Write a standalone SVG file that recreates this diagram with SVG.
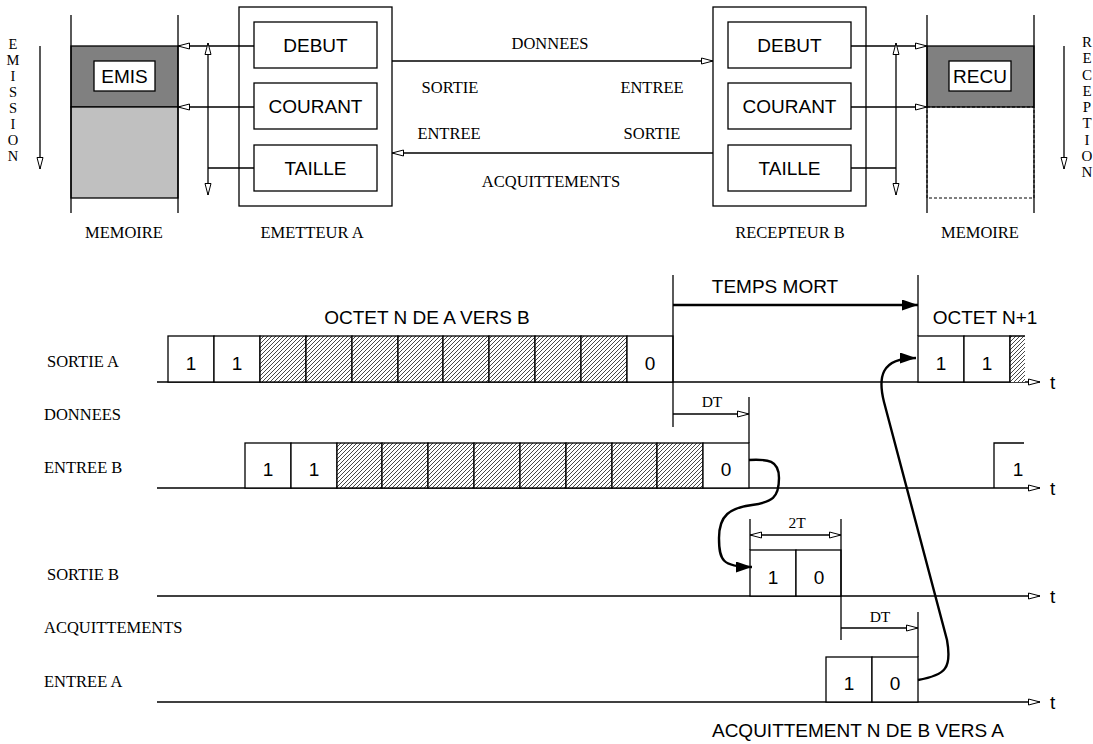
<svg xmlns="http://www.w3.org/2000/svg" width="1093" height="744" viewBox="0 0 1093 744">
<style>
.ln{stroke:#000;stroke-width:1.3;fill:none}
.bx{stroke:#000;stroke-width:1.3;fill:#fff}
.hb{stroke:#000;stroke-width:1.3;fill:url(#hatch)}
.sf{font-family:"Liberation Serif","Times New Roman",serif;font-size:16.5px;fill:#000}
.ss{font-family:"Liberation Sans",Arial,sans-serif;font-size:19px;fill:#000}
.dim{font-family:"Liberation Serif","Times New Roman",serif;font-size:15.5px;fill:#000}
.vt{font-family:"Liberation Serif","Times New Roman",serif;fill:#000;writing-mode:vertical-rl;text-orientation:upright}
.c{text-anchor:middle}
.oa{stroke:#000;stroke-width:1.3;fill:none;marker-end:url(#open)}
.ob{stroke:#000;stroke-width:1.3;fill:none;marker-start:url(#open);marker-end:url(#open)}
.sa{stroke:#000;stroke-width:2.4;fill:none;marker-end:url(#solid)}
</style>
<defs>
<marker id="open" markerUnits="userSpaceOnUse" markerWidth="14" markerHeight="9" refX="12" refY="4" orient="auto-start-reverse">
<path d="M0.5,1 L12,4 L0.5,7 z" fill="#fff" stroke="#000" stroke-width="1"/>
</marker>
<marker id="solid" markerUnits="userSpaceOnUse" markerWidth="18" markerHeight="12" refX="16" refY="5.5" orient="auto">
<path d="M0,0 L16,5.5 L0,11 z" fill="#000"/>
</marker>
<pattern id="hatch" width="4" height="4" patternUnits="userSpaceOnUse">
<rect width="4" height="4" fill="#fff"/>
<path d="M-1,1 L1,-1 M0,4 L4,0 M3,5 L5,3" stroke="#333" stroke-width="0.9"/>
</pattern>
</defs>
<rect width="1093" height="744" fill="#fff"/>

<g id="emission-label">
<text class="vt" x="13" y="36" style="font-size:14.5px">EMISSION</text>
</g>

<g id="memoire-a">
<rect x="71" y="46" width="107" height="61" fill="#808080" stroke="#000" stroke-width="1.3"/>
<rect x="71" y="107" width="107" height="91" fill="#c0c0c0" stroke="#000" stroke-width="1.3"/>
<line class="ln" x1="71" y1="15" x2="71" y2="213"/>
<line class="ln" x1="178" y1="15" x2="178" y2="213"/>
<rect class="bx" x="94" y="61" width="61" height="30"/>
<text class="ss c" x="124.5" y="83">EMIS</text>
<text class="sf c" x="124" y="238">MEMOIRE</text>
</g>

<g id="emetteur-a">
<rect class="ln" x="239" y="7" width="153" height="199"/>
<g id="debut-a"><rect class="bx" x="254" y="22" width="123" height="46"/><text class="ss c" x="315.5" y="52">DEBUT</text></g>
<g id="courant-a"><rect class="bx" x="254" y="83" width="123" height="46"/><text class="ss c" x="315.5" y="113">COURANT</text></g>
<g id="taille-a"><rect class="bx" x="254" y="145" width="123" height="46"/><text class="ss c" x="315.5" y="175">TAILLE</text></g>
<text class="sf c" x="312" y="238">EMETTEUR A</text>
</g>

<g id="recepteur-b">
<rect class="ln" x="713" y="7" width="153" height="199"/>
<g id="debut-b"><rect class="bx" x="728" y="22" width="123" height="46"/><text class="ss c" x="789.5" y="52">DEBUT</text></g>
<g id="courant-b"><rect class="bx" x="728" y="83" width="123" height="46"/><text class="ss c" x="789.5" y="113">COURANT</text></g>
<g id="taille-b"><rect class="bx" x="728" y="145" width="123" height="46"/><text class="ss c" x="789.5" y="175">TAILLE</text></g>
<text class="sf c" x="790" y="238">RECEPTEUR B</text>
</g>

<g id="memoire-b">
<rect x="927" y="46" width="107" height="61" fill="#808080" stroke="#000" stroke-width="1.3"/>
<rect x="927" y="107" width="107" height="91" fill="none" stroke="#000" stroke-width="1" stroke-dasharray="3,2"/>
<line class="ln" x1="927" y1="15" x2="927" y2="213"/>
<line class="ln" x1="1034" y1="15" x2="1034" y2="213"/>
<rect class="bx" x="949" y="61" width="62" height="30"/>
<text class="ss c" x="980" y="83">RECU</text>
<text class="sf c" x="980" y="238">MEMOIRE</text>
</g>

<g id="reception-label">
<text class="vt" x="1087" y="34" style="font-size:15px;letter-spacing:0.3px">RECEPTION</text>
</g>

<g id="link-labels">
<text class="sf c" x="550" y="49">DONNEES</text>
<text class="sf c" x="450" y="93">SORTIE</text>
<text class="sf c" x="652" y="93">ENTREE</text>
<text class="sf c" x="449" y="139">ENTREE</text>
<text class="sf c" x="652" y="139">SORTIE</text>
<text class="sf c" x="551" y="187">ACQUITTEMENTS</text>
</g>

<g id="connectors">
<line class="oa" x1="40" y1="46" x2="40" y2="169"/>
<line class="oa" x1="1064" y1="46" x2="1064" y2="169"/>
<line class="oa" x1="254" y1="46" x2="178" y2="46"/>
<line class="oa" x1="254" y1="107" x2="178" y2="107"/>
<line class="ln" x1="254" y1="168" x2="208" y2="168"/>
<line class="ob" x1="208" y1="43" x2="208" y2="195"/>
<line class="oa" x1="851" y1="46" x2="927" y2="46"/>
<line class="oa" x1="851" y1="107" x2="927" y2="107"/>
<line class="ln" x1="851" y1="168" x2="896" y2="168"/>
<line class="ob" x1="896" y1="43" x2="896" y2="195"/>
<line class="oa" x1="392" y1="61" x2="713" y2="61"/>
<line class="oa" x1="713" y1="153" x2="392" y2="153"/>
</g>

<g id="timing-labels">
<text class="sf" x="47" y="367">SORTIE A</text>
<text class="sf" x="44" y="420">DONNEES</text>
<text class="sf" x="44" y="473">ENTREE B</text>
<text class="sf" x="47" y="580">SORTIE B</text>
<text class="sf" x="44" y="633">ACQUITTEMENTS</text>
<text class="sf" x="44" y="687">ENTREE A</text>
<text class="ss c" x="427" y="324">OCTET N DE A VERS B</text>
<text class="ss c" x="775" y="293">TEMPS MORT</text>
<text class="ss c" x="985" y="324">OCTET N+1</text>
<text class="ss c" x="858" y="737">ACQUITTEMENT N DE B VERS A</text>
<text class="ss" x="1050" y="389">t</text>
<text class="ss" x="1050" y="495">t</text>
<text class="ss" x="1050" y="603">t</text>
<text class="ss" x="1050" y="709">t</text>
</g>

<g id="sortie-a">
<line class="oa" x1="157" y1="382" x2="1040" y2="382"/>
<rect class="bx" x="168" y="336" width="46" height="46"/>
<rect class="bx" x="214" y="336" width="46" height="46"/>
<rect class="hb" x="260" y="336" width="46" height="46"/>
<rect class="hb" x="306" y="336" width="46" height="46"/>
<rect class="hb" x="352" y="336" width="46" height="46"/>
<rect class="hb" x="398" y="336" width="45" height="46"/>
<rect class="hb" x="443" y="336" width="46" height="46"/>
<rect class="hb" x="489" y="336" width="46" height="46"/>
<rect class="hb" x="535" y="336" width="46" height="46"/>
<rect class="hb" x="581" y="336" width="46" height="46"/>
<rect class="bx" x="627" y="336" width="46" height="46"/>
<text class="ss c" x="191" y="370">1</text>
<text class="ss c" x="237" y="370">1</text>
<text class="ss c" x="650" y="370">0</text>
<rect class="bx" x="918" y="336" width="46" height="46"/>
<rect class="bx" x="964" y="336" width="46" height="46"/>
<rect x="1010" y="336" width="15" height="46" fill="url(#hatch)"/>
<polyline class="ln" points="1010,382 1010,336 1025,336"/>
<text class="ss c" x="941" y="370">1</text>
<text class="ss c" x="987" y="370">1</text>
</g>

<g id="entree-b">
<line class="oa" x1="157" y1="488" x2="1040" y2="488"/>
<rect class="bx" x="245" y="443" width="46" height="45"/>
<rect class="bx" x="291" y="443" width="46" height="45"/>
<rect class="hb" x="337" y="443" width="45" height="45"/>
<rect class="hb" x="382" y="443" width="46" height="45"/>
<rect class="hb" x="428" y="443" width="46" height="45"/>
<rect class="hb" x="474" y="443" width="46" height="45"/>
<rect class="hb" x="520" y="443" width="46" height="45"/>
<rect class="hb" x="566" y="443" width="46" height="45"/>
<rect class="hb" x="612" y="443" width="45" height="45"/>
<rect class="hb" x="657" y="443" width="46" height="45"/>
<rect class="bx" x="703" y="443" width="46" height="45"/>
<text class="ss c" x="268" y="476">1</text>
<text class="ss c" x="314" y="476">1</text>
<text class="ss c" x="726" y="476">0</text>
<polyline class="ln" points="994,488 994,443 1024,443"/>
<text class="ss c" x="1018" y="476">1</text>
</g>

<g id="sortie-b">
<line class="oa" x1="157" y1="596" x2="1040" y2="596"/>
<rect class="bx" x="750" y="550" width="46" height="46"/>
<rect class="bx" x="796" y="550" width="45" height="46"/>
<text class="ss c" x="773" y="584">1</text>
<text class="ss c" x="819" y="584">0</text>
</g>

<g id="entree-a">
<line class="oa" x1="157" y1="702" x2="1040" y2="702"/>
<rect class="bx" x="826" y="657" width="46" height="45"/>
<rect class="bx" x="872" y="657" width="46" height="45"/>
<text class="ss c" x="849" y="690">1</text>
<text class="ss c" x="895" y="690">0</text>
</g>

<g id="dimensions">
<line class="ln" x1="673" y1="275" x2="673" y2="427"/>
<line class="ln" x1="918" y1="275" x2="918" y2="336"/>
<line class="sa" x1="673" y1="305" x2="918" y2="305"/>
<line class="ln" x1="749" y1="397" x2="749" y2="443"/>
<line class="oa" x1="673" y1="414" x2="749" y2="414"/>
<text class="dim c" x="712" y="407">DT</text>
<line class="ln" x1="750" y1="519" x2="750" y2="550"/>
<line class="ln" x1="841" y1="519" x2="841" y2="640"/>
<line class="ob" x1="750" y1="535" x2="841" y2="535"/>
<text class="dim c" x="797" y="528">2T</text>
<line class="ln" x1="918" y1="612" x2="918" y2="657"/>
<line class="oa" x1="841" y1="628" x2="918" y2="628"/>
<text class="dim c" x="880" y="622">DT</text>
</g>

<g id="flow-arrows">
<path class="sa" d="M749,460 C768,459 779,460 779,478 C779,498 772,502 752,505 C730,508 719,515 719,538 C719,560 722,567 752,567"/>
<path class="sa" d="M918,680 C946,675 952,668 947,640 L884,402 C878,378 880,358 916,358"/>
</g>
</svg>
